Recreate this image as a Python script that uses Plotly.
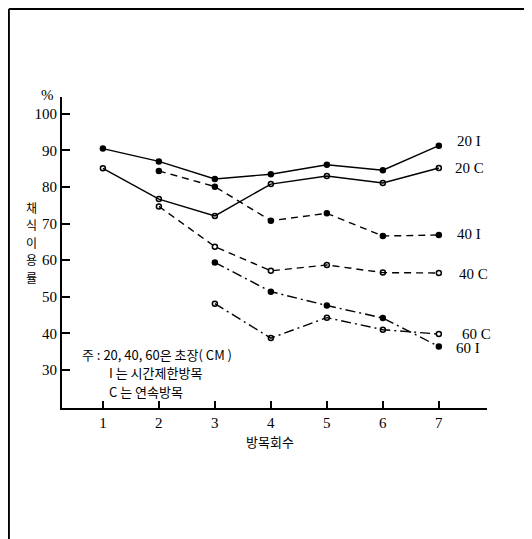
import plotly.graph_objects as go

rounds = [1, 2, 3, 4, 5, 6, 7]

s20I = [90.5, 87.0, 82.2, 83.5, 86.1, 84.6, 91.3]
s20C = [85.1, 76.7, 72.1, 80.8, 83.0, 81.1, 85.2]
s40I = [None, 84.4, 80.1, 70.8, 72.8, 66.6, 66.9]
s40C = [None, 74.7, 63.7, 57.1, 58.7, 56.6, 56.5]
s60I = [None, None, 59.4, 51.4, 47.6, 44.2, 36.4]
s60C = [None, None, 48.1, 38.7, 44.3, 41.0, 39.8]

series_names = ["20 I", "20 C", "40 I", "40 C", "60 I", "60 C"]
label_y = [92.6, 85.3, 67.2, 56.3, 36.0, 39.9]
label_x = [7.28, 7.25, 7.28, 7.32, 7.27, 7.37]

y_ticks = [30, 40, 50, 60, 70, 80, 90, 100]
x_title = "방목회수"
y_title = "채식이용률"
note_lines = ["주 : 20, 40, 60은 초장( CM )", "I 는 시간제한방목", "C 는 연속방목"]

SERIF = "Liberation Serif"
KR = "Noto Sans CJK KR"

fig = go.Figure()
styles = [
    (s20I, "solid", "circle"),
    (s20C, "solid", "circle-open"),
    (s40I, "7px,5px", "circle"),
    (s40C, "7px,5px", "circle-open"),
    (s60I, "10px,4px,2px,4px", "circle"),
    (s60C, "10px,4px,2px,4px", "circle-open"),
]
for (vals, dash, sym), name in zip(styles, series_names):
    fig.add_trace(go.Scatter(
        x=rounds, y=vals, name=name, mode="lines+markers",
        line=dict(color="black", width=1.4, dash=dash),
        marker=dict(symbol=sym, size=5,
                    color="black", line=dict(color="black", width=1.5)),
        connectgaps=False, showlegend=False,
    ))

annotations = []
for name, lx, ly in zip(series_names, label_x, label_y):
    annotations.append(dict(x=lx, y=ly, xref="x", yref="y", text=name,
                            showarrow=False, xanchor="left", yanchor="middle",
                            font=dict(family=SERIF, size=15, color="black")))

note_pos = [(0.6, 34.2), (1.07, 29.2), (1.07, 24.0)]
for t, (nx, ny) in zip(note_lines, note_pos):
    annotations.append(dict(x=nx, y=ny, xref="x", yref="y", text=t,
                            showarrow=False, xanchor="left", yanchor="middle",
                            font=dict(family=KR, size=13, color="black")))

annotations.append(dict(x=-0.035, y=1.006, xref="paper", yref="paper", text="%",
                        showarrow=False, xanchor="center", yanchor="middle",
                        font=dict(family=SERIF, size=15, color="black")))
# vertical y title, one character per annotation
for i, ch in enumerate(y_title):
    annotations.append(dict(x=-0.072, y=0.645 - i * 0.056, xref="paper", yref="paper",
                            text=ch, showarrow=False, borderpad=0,
                            xanchor="center", yanchor="middle",
                            font=dict(family=KR, size=12, color="black")))
annotations.append(dict(x=0.49, y=-0.07, xref="paper", yref="paper",
                        text=x_title, showarrow=False,
                        xanchor="center", yanchor="top",
                        font=dict(family=KR, size=13, color="black")))

fig.update_layout(
    width=524, height=531,
    margin=dict(l=54, r=45, t=89, b=131),
    paper_bgcolor="white", plot_bgcolor="white",
    annotations=annotations,
    xaxis=dict(range=[0.27, 7.86], tickvals=rounds, showgrid=False, zeroline=False,
               showline=True, linecolor="black", linewidth=2,
               ticks="inside", ticklen=7, tickwidth=2, tickcolor="black",
               tickfont=dict(family=SERIF, size=15, color="black")),
    yaxis=dict(range=[19.6, 104.6], tickvals=y_ticks, showgrid=False, zeroline=False,
               showline=True, linecolor="black", linewidth=2,
               ticks="inside", ticklen=8, tickwidth=2, tickcolor="black",
               tickfont=dict(family=SERIF, size=15, color="black")),
    shapes=[
        dict(type="line", xref="paper", yref="paper", x0=-0.125, x1=1.2,
             y0=1.283, y1=1.283, line=dict(color="black", width=2)),
        dict(type="line", xref="paper", yref="paper", x0=-0.125, x1=-0.125,
             y0=1.283, y1=-0.45, line=dict(color="black", width=2)),
    ],
)

fig.write_html("out.html")
